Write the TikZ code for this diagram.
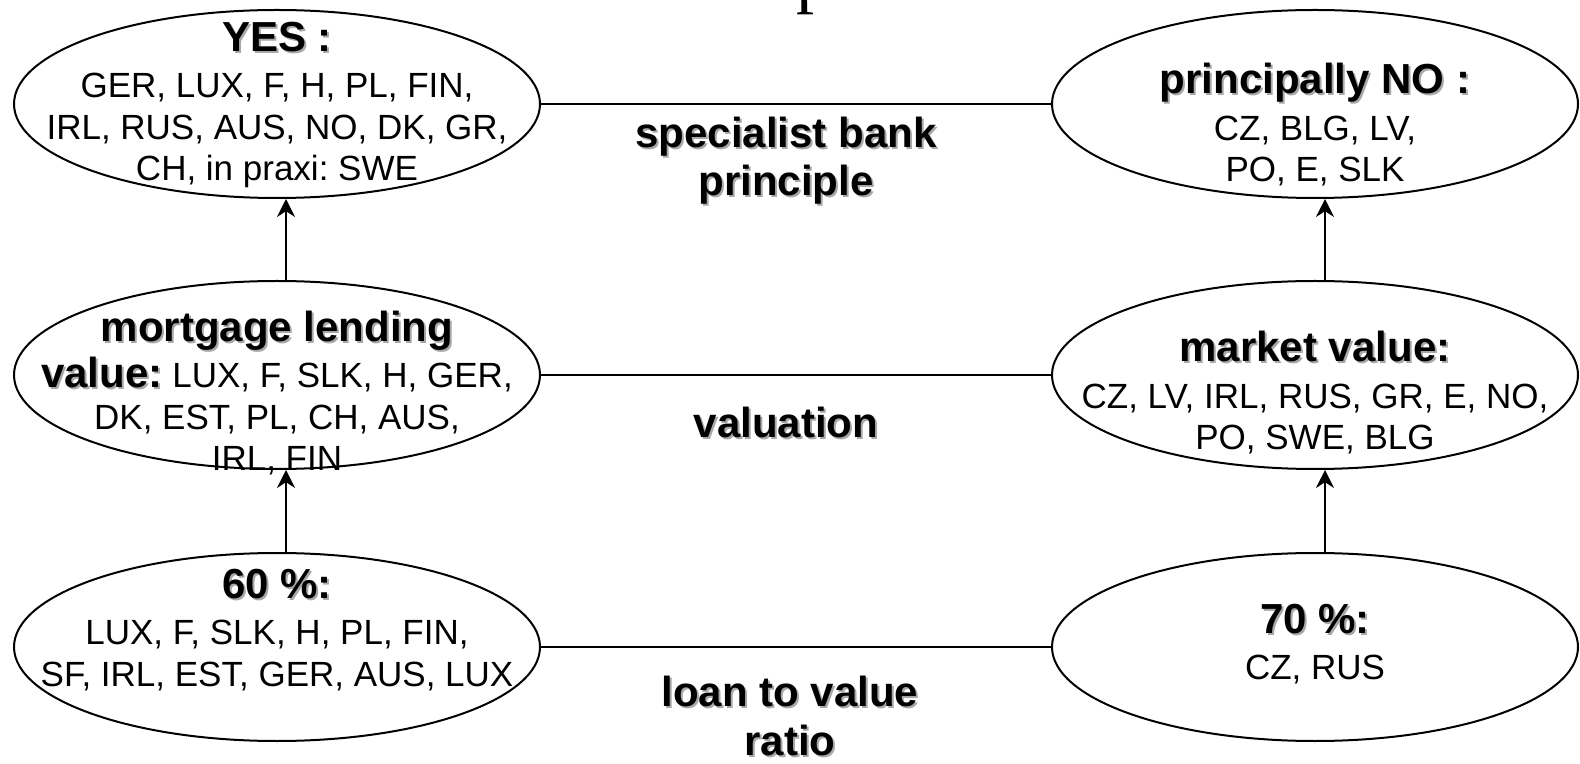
\documentclass[tikz,border=0pt]{standalone}
\usepackage{fontspec}
\setmainfont{Liberation Sans}
\newfontfamily\ttlfont{Liberation Serif}
\usetikzlibrary{arrows.meta,positioning,shapes.geometric}
\definecolor{shdgray}{HTML}{A8A8A8}
\frenchspacing
\newcommand{\hd}[1]{{\fontsize{21}{24}\selectfont\bfseries\leavevmode
  \rlap{\kern1pt\raisebox{-1pt}{\textcolor{shdgray}{#1}}}#1}}

\begin{document}
\begin{tikzpicture}[x=0.5pt,y=-0.5pt,
  every node/.style={font=\fontsize{17.5}{20.75}\selectfont},
  ov/.style={draw,ellipse,line width=1pt,minimum width=263pt,
    minimum height=94pt,inner sep=0pt},
  tx/.style={align=center,inner sep=0pt},
  lb/.style={tx,font=\fontsize{21}{24}\selectfont\bfseries},
  ed/.style={line width=0.75pt},
  up/.style={line width=0.9pt,-{Stealth[length=9pt,width=9pt]}}]
\useasboundingbox (0,0) rectangle (1580,764);
\node[font=\ttlfont\fontsize{36}{40}\selectfont,anchor=base west,
  inner sep=0pt] (ttl) at (796,0) {p};
\node[ov] (yes) at (277,104) {};
\node[ov] (no) at (1315,104) {};
\node[ov] (mlv) at (277,375) {};
\node[ov] (mv) at (1315,375) {};
\node[ov] (p60) at (277,647) {};
\node[ov] (p70) at (1315,647) {};
\node[tx] (yesT) at (277,105) {\hd{YES :}\\[2.5pt] GER, LUX, F, H, PL, FIN,\\
  IRL, RUS, AUS, NO, DK, GR,\\ CH, in praxi: SWE};
\node[tx] (noT) at (1315,125) {\hd{principally NO :}\\[2.5pt] CZ, BLG, LV,\\
  PO, E, SLK};
\node[tx] (mlvT) at (277,393) {\hd{mortgage lending}\\[2.5pt]
  \hd{value:} LUX, F, SLK, H, GER,\\ DK, EST, PL, CH, AUS,\\ IRL, FIN};
\node[tx] (mvT) at (1315,393) {\hd{market value:}\\[2.5pt]
  CZ, LV, IRL, RUS, GR, E, NO,\\ PO, SWE, BLG};
\node[tx] (p60T) at (277,630) {\hd{60 \%:}\\[2.5pt] LUX, F, SLK, H, PL, FIN,\\
  SF, IRL, EST, GER, AUS, LUX};
\node[tx] (p70T) at (1315,644) {\hd{70 \%:}\\[2.5pt] CZ, RUS};
\node[lb] (sbp) at (786,162) {\hd{specialist bank}\\ \hd{principle}};
\node[lb] (val) at (786,423) {\hd{valuation}};
\node[lb] (ltv) at (790,717) {\hd{loan to value}\\[0.5pt] \hd{ratio}};
\foreach \a/\b in {yes/no,mlv/mv,p60/p70} {\draw[ed] (\a) -- (\b);}
\foreach \a/\b/\s in {p60/mlv/4.5,mlv/yes/4.5,p70/mv/5,mv/no/5}
  {\draw[up] ([xshift=\s pt]\a.north) -- ([xshift=\s pt]\b.south);}
\end{tikzpicture}
\end{document}
